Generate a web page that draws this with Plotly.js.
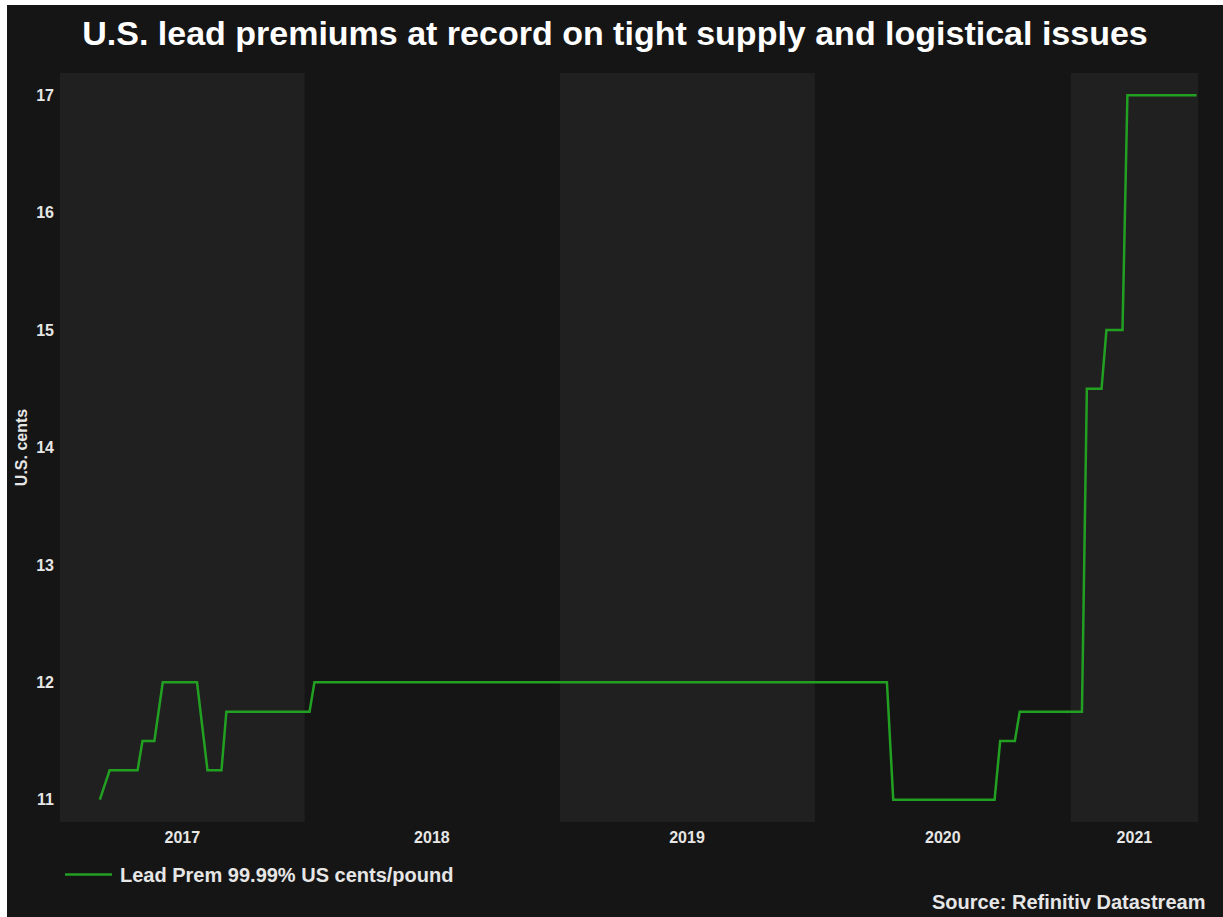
<!DOCTYPE html>
<html>
<head>
<meta charset="utf-8">
<script src="https://cdn.plot.ly/plotly-3.0.1.min.js"></script>
<style>
  html, body { margin: 0; padding: 0; background: #ffffff; width: 1223px; height: 917px; overflow: hidden; }
  #chart { position: absolute; left: 7px; top: 5px; width: 1216px; height: 912px; }
</style>
</head>
<body>
<div id="chart"></div>
<script>
// ---- Data ----
const dates = ['2017-03-14','2017-03-28','2017-05-07','2017-05-14','2017-05-31','2017-06-12',
  '2017-07-31','2017-08-15','2017-09-04','2017-09-11','2018-01-08','2018-01-15',
  '2020-04-13','2020-04-22','2020-09-14','2020-09-22','2020-10-13','2020-10-20',
  '2021-01-17','2021-01-24','2021-02-14','2021-02-21','2021-03-16','2021-03-23','2021-06-30'];
const premium = [11, 11.25, 11.25, 11.5, 11.5, 12,
  12, 11.25, 11.25, 11.75, 11.75, 12,
  12, 11, 11, 11.5, 11.5, 11.75,
  11.75, 14.5, 14.5, 15, 15, 17, 17];
const years = [2017, 2018, 2019, 2020, 2021];
const shadedYears = [2017, 2019, 2021];
const seriesName = 'Lead Prem 99.99% US cents/pound';
const xRange = ['2017-01-16', '2021-07-02'];
const yRange = [10.81, 17.19];

// ---- Derived: year bands and centred labels ----
const t = s => new Date(s + 'T00:00:00Z').getTime();
const iso = ms => new Date(ms).toISOString().slice(0, 10);
const r0 = t(xRange[0]), r1 = t(xRange[1]);
const tickvals = [], ticktext = [], shapes = [];
years.forEach(y => {
  const a = Math.max(t(y + '-01-01'), r0);
  const b = Math.min(t((y + 1) + '-01-01'), r1);
  tickvals.push(iso((a + b) / 2));
  ticktext.push(String(y));
  if (shadedYears.includes(y)) {
    shapes.push({type: 'rect', xref: 'x', yref: 'paper', x0: iso(a), x1: iso(b), y0: 0, y1: 1,
      fillcolor: '#202020', line: {width: 0}, layer: 'below'});
  }
});

const FAM = 'Liberation Sans, Arial, sans-serif';
const f = (size, color) => ({family: FAM, size: size, color: color || '#e6e6e6', weight: 'bold'});

const trace = {
  x: dates, y: premium, type: 'scatter', mode: 'lines', name: seriesName,
  line: {color: '#22a022', width: 2.5, shape: 'linear'}
};

const layout = {
  width: 1216, height: 912,
  paper_bgcolor: '#151515', plot_bgcolor: '#151515',
  margin: {l: 53, r: 25, t: 68, b: 95},
  title: {text: 'U.S. lead premiums at record on tight supply and logistical issues',
    font: f(34, '#ffffff'),
    x: 0.5, xanchor: 'center', yref: 'container', y: 0.969, yanchor: 'middle'},
  xaxis: {type: 'date', range: xRange, tickvals: tickvals, ticktext: ticktext,
    showgrid: false, zeroline: false, showline: false, ticks: '', ticklabelstandoff: 4,
    tickfont: f(16)},
  yaxis: {range: yRange, dtick: 1, tick0: 11, showgrid: false, zeroline: false, showline: false, ticks: '',
    ticklabelstandoff: 5,
    tickfont: f(16),
    title: {text: 'U.S. cents', font: f(16), standoff: 4}},
  shapes: shapes,
  showlegend: true,
  legend: {orientation: 'h', x: 0.0, xanchor: 'left', y: -0.07, yanchor: 'middle',
    itemwidth: 50, bgcolor: 'rgba(0,0,0,0)', font: f(20)},
  annotations: [{text: 'Source: Refinitiv Datastream', xref: 'paper', yref: 'paper',
    x: 1.008, xanchor: 'right', y: -0.107, yanchor: 'middle', showarrow: false,
    font: f(20)}]
};

Plotly.newPlot('chart', [trace], layout, {displayModeBar: false, staticPlot: true}).then(() => {
  // longer legend swatch, as in the original
  document.querySelectorAll('#chart .legendlines path').forEach(p => p.setAttribute('d', 'M5,0h47'));
});
</script>
</body>
</html>
